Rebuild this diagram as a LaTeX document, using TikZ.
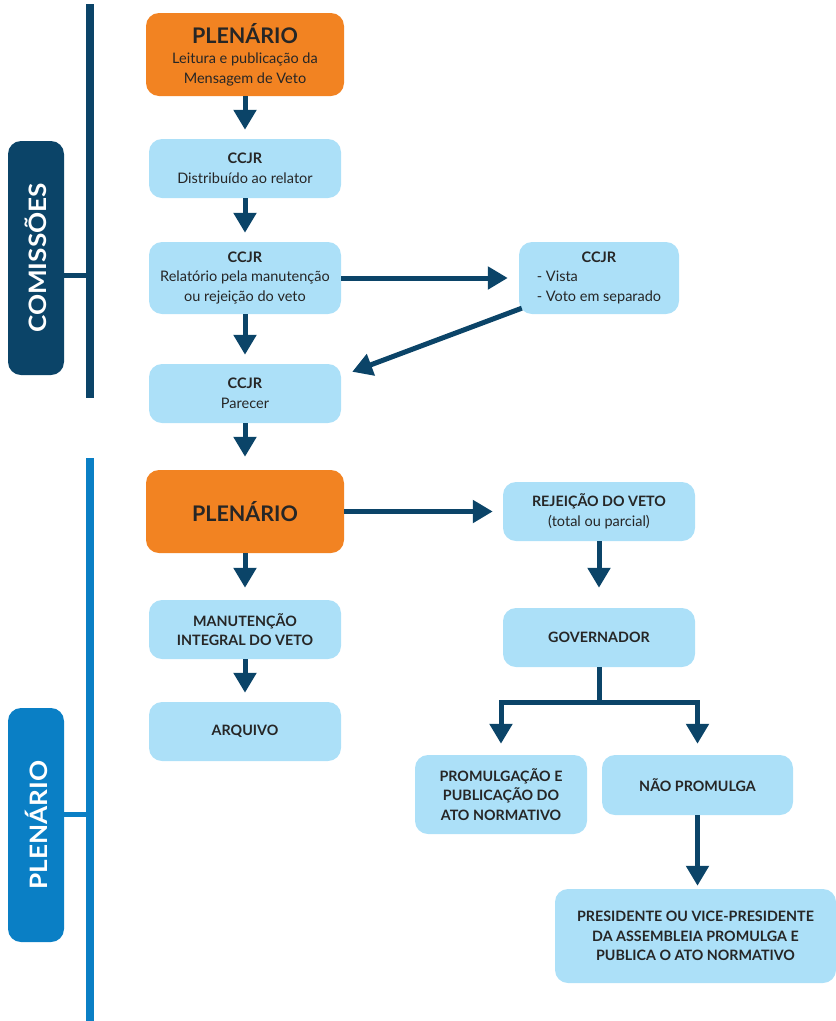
\documentclass[tikz,border=0pt]{standalone}
\usepackage{fontspec}
\setmainfont{Lato}
\usetikzlibrary{arrows.meta}

\definecolor{orng}{HTML}{F28322}
\definecolor{lightb}{HTML}{ACE0F8}
\definecolor{navy}{HTML}{0B4468}
\definecolor{bblue}{HTML}{0A7FC5}
\definecolor{txt}{HTML}{262626}

\tikzset{
  box/.style={rounded corners=13pt, fill=lightb, draw=none, align=center,
    text=txt, inner sep=0pt, font=\fontsize{14.5}{19.5}\selectfont},
  capsbox/.style={box, font=\bfseries\fontsize{14.3}{19.5}\selectfont},
  orangebox/.style={box, fill=orng},
  tab/.style={rounded corners=13pt, inner sep=0pt, minimum width=56pt,
    minimum height=234pt, text=white, font=\bfseries\fontsize{24}{26}\selectfont},
  arr/.style={line width=5pt, draw=navy, -{Triangle[width=22pt,length=20pt]}},
  bar/.style={line width=8.5pt},
  tie/.style={line width=5pt}
}

\begin{document}
\begin{tikzpicture}[x=1pt, y=-1pt]
\useasboundingbox (0,0) rectangle (836,1021);

% side groups: Comissões (dark) and Plenário (blue)
\draw[bar, navy] (90,4) -- (90,398);
\node[tab, fill=navy] (comtab) at (36,258) {\rotatebox{90}{\scalebox{1.09}[1]{COMISSÕES}}};
\draw[tie, navy] (comtab.east |- 0,275) -- (90,275);

\draw[bar, bblue] (90,458) -- (90,1021);
\node[tab, fill=bblue] (pletab) at (36,825) {\rotatebox{90}{\scalebox{1.09}[1]{PLENÁRIO}}};
\draw[tie, bblue] (pletab.east |- 0,814) -- (90,814);

% left column
\node[orangebox, minimum width=198pt, minimum height=83pt] (top) at (245,54.5)
  {{\bfseries\fontsize{21.5}{22}\selectfont PLENÁRIO}\\[1pt]
   Leitura e publicação da\\Mensagem de Veto};
\node[box, minimum width=192pt, minimum height=59pt] (dist) at (245,168.5)
  {\textbf{CCJR}\\Distribuído ao relator};
\node[box, minimum width=192pt, minimum height=72pt] (rel) at (245,278)
  {\textbf{CCJR}\\Relatório pela manutenção\\ou rejeição do veto};
\node[box, minimum width=160pt, minimum height=72pt] (vista) at (599,278)
  {\begin{tabular}{@{}l@{}}
     \multicolumn{1}{@{}c@{}}{\textbf{CCJR}}\\
     - Vista\\
     - Voto em separado
   \end{tabular}};
\node[box, minimum width=192pt, minimum height=59pt] (parecer) at (245,393.5)
  {\textbf{CCJR}\\Parecer};
\node[orangebox, minimum width=198pt, minimum height=83pt] (plen) at (245,511.5)
  {\bfseries\fontsize{21.5}{22}\selectfont PLENÁRIO};
\node[capsbox, minimum width=192pt, minimum height=59pt] (manut) at (245,629.5)
  {MANUTENÇÃO\\INTEGRAL DO VETO};
\node[capsbox, minimum width=192pt, minimum height=59pt] (arq) at (245,731.5)
  {ARQUIVO};

% right column
\node[box, minimum width=192pt, minimum height=59pt] (rej) at (599,511.5)
  {{\bfseries\fontsize{14.3}{19.5}\selectfont REJEIÇÃO DO VETO}\\(total ou parcial)};
\node[capsbox, minimum width=192pt, minimum height=59pt] (gov) at (599,637.5)
  {GOVERNADOR};
\node[capsbox, minimum width=172pt, minimum height=79pt] (prom) at (501,794.5)
  {PROMULGAÇÃO E\\PUBLICAÇÃO DO\\ATO NORMATIVO};
\node[capsbox, minimum width=191pt, minimum height=60pt] (naop) at (697.5,785)
  {NÃO PROMULGA};
\node[capsbox, minimum width=281pt, minimum height=94pt] (pres) at (695.5,936)
  {PRESIDENTE OU VICE-PRESIDENTE\\DA ASSEMBLEIA PROMULGA E\\PUBLICA O ATO NORMATIVO};

% connectors
\draw[arr, shorten >=9pt] (top) -- (dist);
\draw[arr, shorten >=9pt] (dist) -- (rel);
\draw[arr, shorten >=9pt] (rel) -- (parecer);
\draw[arr, shorten >=11pt] (rel) -- (vista);
\draw[arr] ([xshift=3pt,yshift=6pt]vista.south west) -- ([xshift=11pt,yshift=-8pt]parecer.north east);
\draw[arr, shorten >=13pt] (parecer) -- (plen);
\draw[arr, shorten >=12pt] (plen) -- (manut);
\draw[arr, shorten >=9pt] (manut) -- (arq);
\draw[arr, shorten >=10pt] (plen) -- (rej);
\draw[arr, shorten >=20pt] (rej) -- (gov);
\coordinate (split) at (599,702);
\draw[arr, shorten >=11pt] (gov) -- (split) -| (prom);
\draw[arr, shorten >=11pt] (split) -| (naop);
\draw[arr, shorten >=3pt] (naop.south) -- (naop.south |- pres.north);
\end{tikzpicture}
\end{document}
